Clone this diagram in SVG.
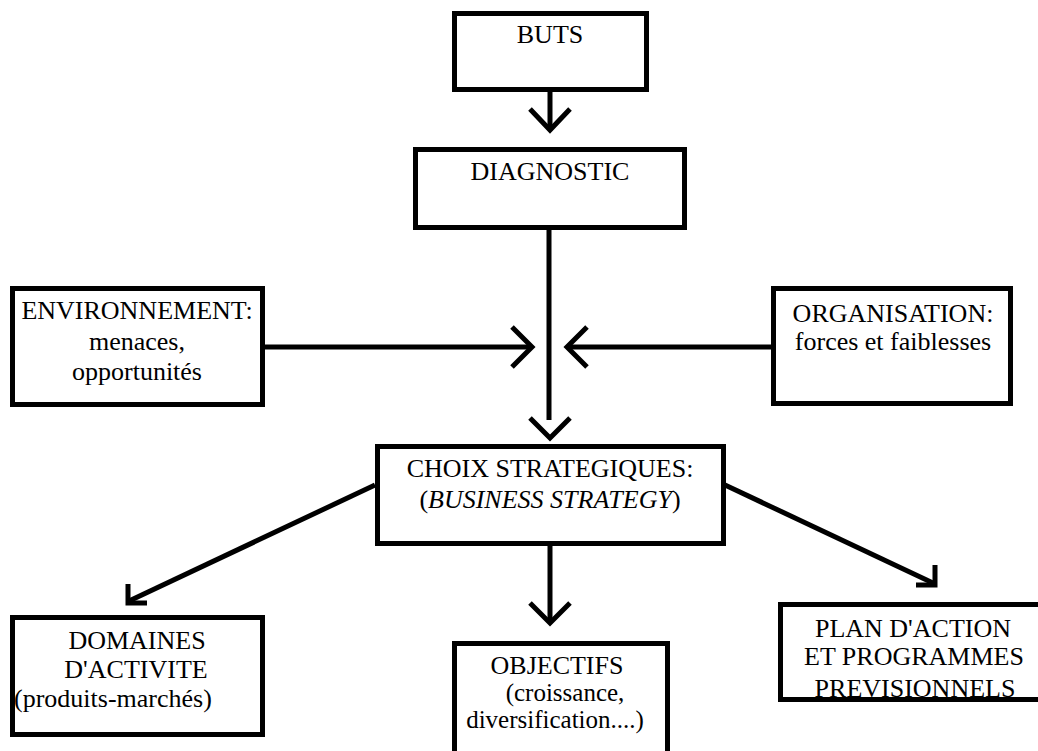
<svg xmlns="http://www.w3.org/2000/svg" width="1038" height="751" viewBox="0 0 1038 751">
<style>
.box{fill:#fff;stroke:#000;stroke-width:5}
.frame{fill:none;stroke:#000;stroke-width:5}
text{font-family:"Liberation Serif","Times New Roman","DejaVu Serif",serif;font-size:26px;fill:#000;text-anchor:middle}
.c line,.c polyline{fill:none;stroke:#000;stroke-width:5;stroke-linecap:butt;stroke-linejoin:miter}
</style>
<rect width="1038" height="751" fill="#fff"/>
<g class="c" id="connectors">
<line x1="550" y1="92" x2="550" y2="130"/>
<polyline points="530,109 550,130 570,109"/>
<line x1="549" y1="230" x2="549" y2="420"/>
<polyline points="530,418 550,438 570,418"/>
<line x1="265" y1="347" x2="531" y2="347"/>
<polyline points="512,327 532,347 512,367"/>
<line x1="771" y1="347" x2="568" y2="347"/>
<polyline points="587,327 567,347 587,367"/>
<line x1="375" y1="485" x2="129" y2="601"/>
<polyline points="128,584 128,603 147,603"/>
<line x1="550" y1="546" x2="550" y2="622"/>
<polyline points="530,603 550,623 570,603"/>
<line x1="725" y1="485" x2="933" y2="583"/>
<polyline points="935,565 935,585 916,585"/>
</g>
<g id="buts">
<rect class="box" x="454.5" y="13.5" width="192" height="76"/>
<text x="550" y="43">BUTS</text>
</g>
<g id="diagnostic">
<rect class="box" x="415.5" y="149.5" width="269" height="78"/>
<text x="550" y="180">DIAGNOSTIC</text>
</g>
<g id="environnement">
<rect class="box" x="12.5" y="288.5" width="250" height="116"/>
<text x="137" y="319">ENVIRONNEMENT:</text>
<text x="137" y="350">menaces,</text>
<text x="137" y="380">opportunités</text>
</g>
<g id="organisation">
<rect class="box" x="773.5" y="288.5" width="237" height="115"/>
<text x="893" y="322">ORGANISATION:</text>
<text x="893" y="350">forces et faiblesses</text>
</g>
<g id="choix">
<rect class="box" x="377.5" y="446.5" width="346" height="97"/>
<text x="550" y="477">CHOIX STRATEGIQUES:</text>
<text x="550" y="508">(<tspan font-style="italic">BUSINESS STRATEGY</tspan>)</text>
</g>
<g id="domaines">
<rect class="box" x="12.5" y="617.5" width="250" height="117"/>
<text x="137" y="649">DOMAINES</text>
<text x="136" y="678">D'ACTIVITE</text>
<text x="14" y="707" style="text-anchor:start">(produits-marchés)</text>
</g>
<g id="objectifs">
<rect class="box" x="454.5" y="643.5" width="213" height="130"/>
<text x="557" y="674">OBJECTIFS</text>
<text x="565" y="701" style="font-size:25px">(croissance,</text>
<text x="555" y="728" style="font-size:25px">diversification....)</text>
</g>
<g id="plan">
<rect fill="#fff" x="780.5" y="604.5" width="270" height="95"/>
<text x="913" y="637">PLAN D'ACTION</text>
<text x="914" y="665">ET PROGRAMMES</text>
<text x="915" y="697">PREVISIONNELS</text>
<rect class="frame" x="780.5" y="604.5" width="270" height="95"/>
</g>
</svg>
